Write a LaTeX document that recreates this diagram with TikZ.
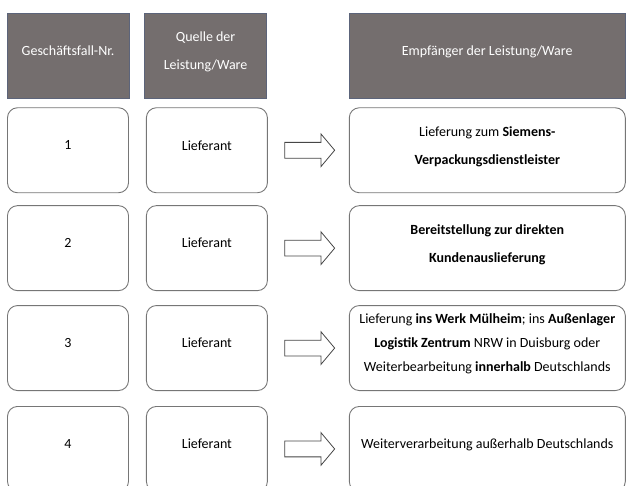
\documentclass[tikz,border=0pt]{standalone}
\usepackage{fontspec}
\setmainfont{Carlito}
\usetikzlibrary{positioning, shapes.arrows, calc}

\definecolor{headgray}{RGB}{116,110,110}
\definecolor{headline}{RGB}{92,100,122}
\definecolor{boxline}{RGB}{118,118,118}
\definecolor{arrowline}{RGB}{70,70,70}

\begin{document}
\begin{tikzpicture}[
    x=1pt, y=-1pt,
    font=\fontsize{14}{28}\selectfont,
    head/.style={rectangle, draw=headline, fill=headgray, text=white, line width=0.6pt, minimum width=122pt, minimum height=85pt, inner sep=0pt, text depth=10pt, align=center},
    cell/.style={rectangle, rounded corners=10pt, draw=boxline, line width=0.9pt, minimum width=121pt, minimum height=85pt, inner sep=0pt, text depth=10pt, align=center},
    target/.style={cell, minimum width=276pt},
    blockarrow/.style={single arrow, draw=arrowline, fill=white, line width=0.8pt, minimum height=50pt, minimum width=32pt, single arrow head extend=8.5pt, single arrow tip angle=100, inner xsep=0pt, inner ysep=7.5pt}
]
\useasboundingbox (0,0) rectangle (627,485);

% headers
\node[head] (nrhead) at (68,55.5) {Geschäftsfall-Nr.};
\node[head, right=15pt of nrhead] (srchead) {Quelle der\\Leistung/Ware};
\node[head, minimum width=276pt, right=82pt of srchead] (dsthead) {Empfänger der Leistung/Ware};

% row 1
\node[cell, below=9pt of nrhead] (nr1) {1};
\node[cell, right=17pt of nr1] (src1) {Lieferant};
\node[target, right=81pt of src1] (dst1) {Lieferung zum \textbf{Siemens-}\\\textbf{Verpackungsdienstleister}};

% row 2
\node[cell, below=12pt of nr1] (nr2) {2};
\node[cell, right=17pt of nr2] (src2) {Lieferant};
\node[target, right=81pt of src2] (dst2) {\textbf{Bereitstellung zur direkten}\\\textbf{Kundenauslieferung}};

% row 3
\node[cell, below=14pt of nr2] (nr3) {3};
\node[cell, right=17pt of nr3] (src3) {Lieferant};
\node[target, right=81pt of src3, font=\fontsize{14}{24}\selectfont] (dst3) {Lieferung \textbf{ins Werk Mülheim}; ins \textbf{Außenlager}\\\textbf{Logistik Zentrum} NRW in Duisburg oder\\Weiterbearbeitung \textbf{innerhalb} Deutschlands};

% row 4
\node[cell, below=15pt of nr3] (nr4) {4};
\node[cell, right=17pt of nr4] (src4) {Lieferant};
\node[target, right=81pt of src4] (dst4) {Weiterverarbeitung außerhalb Deutschlands};

% arrows
\node[blockarrow, xshift=-2pt] (arr1) at ($(src1.east)!0.5!(dst1.west)$) {};
\node[blockarrow, xshift=-2pt] (arr2) at ($(src2.east)!0.5!(dst2.west)$) {};
\node[blockarrow, xshift=-2pt] (arr3) at ($(src3.east)!0.5!(dst3.west)$) {};
\node[blockarrow, xshift=-2pt] (arr4) at ($(src4.east)!0.5!(dst4.west)$) {};

\end{tikzpicture}
\end{document}
